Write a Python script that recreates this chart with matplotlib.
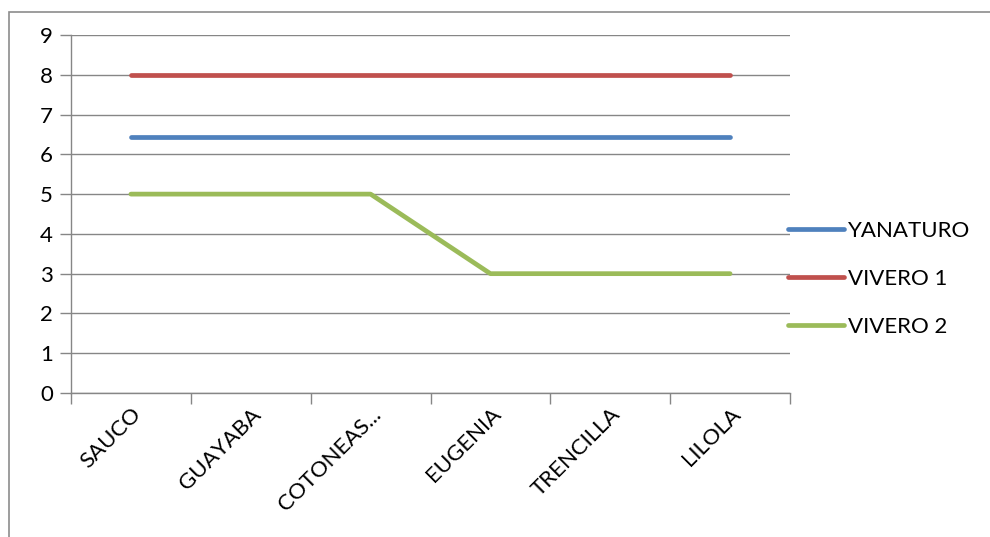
import matplotlib.pyplot as plt
from matplotlib.patches import Rectangle
import numpy as np

# data
categories = ["SAUCO", "GUAYABA", "COTONEAS...", "EUGENIA", "TRENCILLA", "LILOLA"]
yanaturo = [6.43, 6.43, 6.43, 6.43, 6.43, 6.43]
vivero1 = [8, 8, 8, 8, 8, 8]
vivero2 = [5, 5, 5, 3, 3, 3]

plt.rcParams['font.family'] = ['Lato', 'DejaVu Sans']
grid_c = "#868686"
fs = 16

fig = plt.figure(figsize=(9.9, 5.37), dpi=100)
# outer frame of the chart area
fig.patches.append(Rectangle((9/990, -0.1), 1.1, (537-12)/537 + 0.1, transform=fig.transFigure,
                             fill=False, edgecolor="#8c8c8c", linewidth=1.2))

ax = fig.add_axes([71/990, (537-393)/537, (790-71)/990, (393-35)/537])
x = np.arange(len(categories))
ax.plot(x, yanaturo, color="#4F81BD", lw=3.4, solid_capstyle="round", label="YANATURO")
ax.plot(x, vivero1, color="#C0504D", lw=3.4, solid_capstyle="round", label="VIVERO 1")
ax.plot(x, vivero2, color="#9BBB59", lw=3.4, solid_capstyle="round", label="VIVERO 2")

ax.set_xlim(-0.5, len(categories) - 0.5)
ax.set_ylim(0, 9)
ax.set_yticks(range(10))
ax.yaxis.grid(True, color=grid_c, lw=1)
ax.set_axisbelow(True)

ax.set_xticks(x)
ax.set_xticklabels(categories, rotation=45, ha="right", rotation_mode="anchor", fontsize=fs)
ax.set_xticks(np.arange(-0.5, len(categories)), minor=True)
ax.tick_params(axis="x", which="major", length=0, pad=8)
ax.tick_params(axis="x", which="minor", length=8, color=grid_c, width=1)
ax.tick_params(axis="y", length=8, color=grid_c, width=1, labelsize=fs, pad=5)

for s in ["top", "right"]:
    ax.spines[s].set_visible(False)
for s in ["left", "bottom"]:
    ax.spines[s].set_color(grid_c)
    ax.spines[s].set_linewidth(1)

fig.legend(loc="center left", bbox_to_anchor=(788/990, (537-279)/537), frameon=False,
           fontsize=fs, handlelength=2.5, handletextpad=0.2, labelspacing=1.25,
           borderpad=0, borderaxespad=0)

fig.savefig("out.png", dpi=100)
